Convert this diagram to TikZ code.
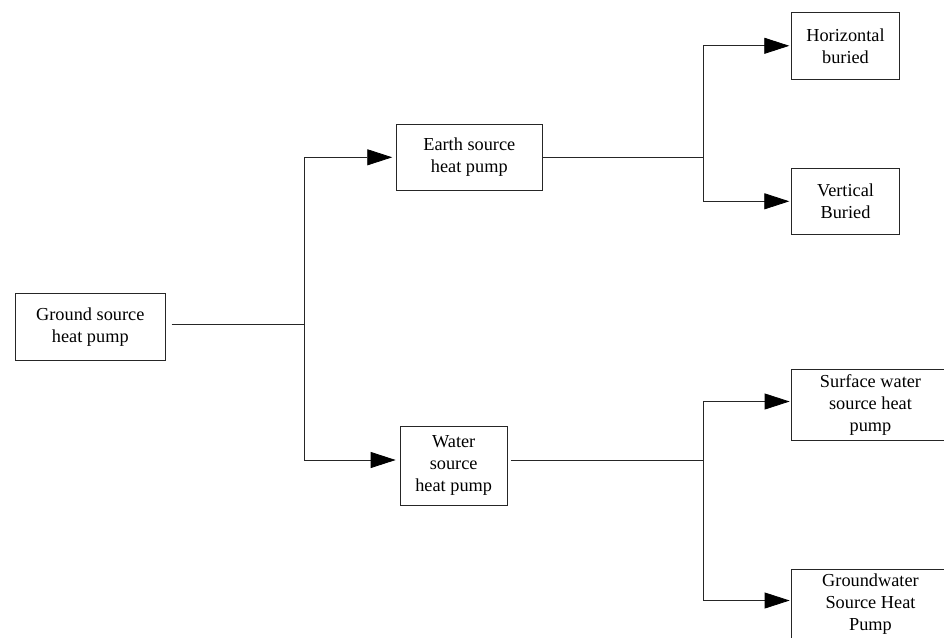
\documentclass[tikz,border=0pt]{standalone}
\usepackage{fontspec}
\setmainfont{Liberation Serif}
\usetikzlibrary{arrows.meta,calc}
\begin{document}
\begin{tikzpicture}[x=1pt,y=-1pt,
  box/.style={draw=black!85, line width=0.8pt, inner sep=0pt, align=center,
    font=\fontsize{18.3}{22}\selectfont},
  link/.style={draw=black!85, line width=0.8pt},
  arr/.style={link, -{Triangle[length=25pt,width=16pt,fill=black,color=black]}}]
\useasboundingbox (0,0) rectangle (944,637);
\clip (0,0) rectangle (944,637);
\fill[white] (0,0) rectangle (944,637);
% nodes
\node[box, minimum width=150pt, minimum height=66.7pt] (ground) at (90.3,326.7) {Ground source\\heat pump};
\node[box, minimum width=145.3pt, minimum height=66.7pt] (earth) at (469.3,157.3) {Earth source\\heat pump};
\node[box, minimum width=107.3pt, minimum height=79pt] (water) at (453.7,465.5) {Water\\source\\heat pump};
\node[box, minimum width=107.6pt, minimum height=67pt] (hor) at (845.5,45.8) {Horizontal\\buried};
\node[box, minimum width=107.6pt, minimum height=66pt] (ver) at (845.5,201.3) {Vertical\\Buried};
\node[box, minimum width=159pt, minimum height=71pt] (surf) at (870.5,404.5) {Surface water\\source heat\\pump};
\node[box, minimum width=159pt, minimum height=71pt] (gw) at (870.5,604.5) {Groundwater\\Source Heat\\Pump};
% junctions
\coordinate (j1) at (304.3,324.3);
\coordinate (j2) at (703.3,157.3);
\coordinate (j3) at (703.3,460);
% connectors
\draw[link, shorten <=6pt] (ground.east |- j1) -- (j1);
\draw[arr, shorten >=4pt] (j1) |- (earth.west);
\draw[arr, shorten >=4pt] (j1) |- ($(water.west)+(0,-5.5)$);
\draw[link] (earth.east) -- (j2);
\draw[arr, shorten >=2pt] (j2) |- (hor.west);
\draw[arr, shorten >=2pt] (j2) |- (ver.west);
\draw[link, shorten <=3pt] (water.east |- j3) -- (j3);
\draw[arr, shorten >=1pt] (j3) |- ($(surf.west)+(0,-3)$);
\draw[arr, shorten >=1pt] (j3) |- ($(gw.west)+(0,-4)$);
\end{tikzpicture}
\end{document}
